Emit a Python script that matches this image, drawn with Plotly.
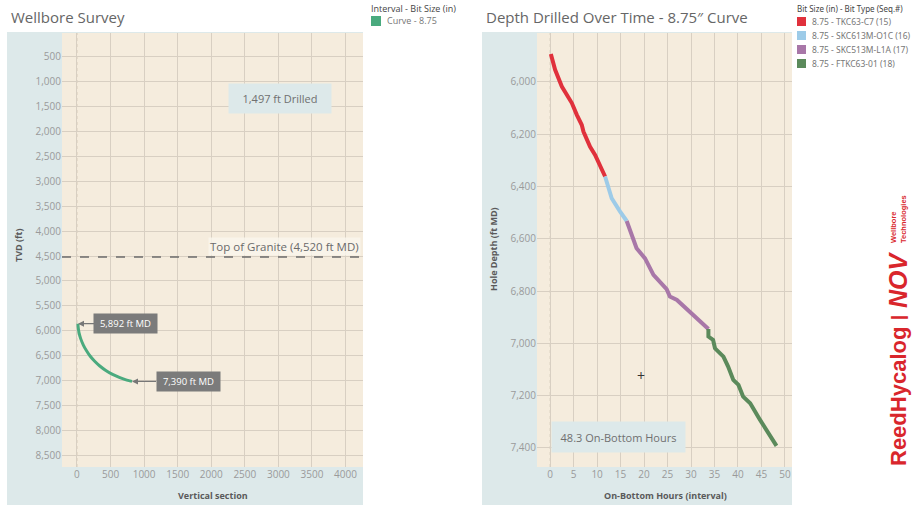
import plotly.graph_objects as go

W, H = 913, 506

# ---------------- data ----------------
# Wellbore survey (vertical section vs TVD)
survey_vs = [15, 18, 30, 55, 95, 140, 195, 260, 340, 430, 530, 630, 720, 790, 820]
survey_tvd = [5860, 5930, 6040, 6160, 6290, 6400, 6510, 6610, 6710, 6800, 6880, 6940, 6985, 7010, 7020]

# Depth drilled over time, by bit run
bit_names = ["8.75 - TKC63-C7 (15)", "8.75 - SKC613M-O1C (16)",
             "8.75 - SKC513M-L1A (17)", "8.75 - FTKC63-01 (18)"]
bit_colors = ["#e0313c", "#9dcbe8", "#a877a8", "#5b8a5b"]

hours_15 = [0.15, 1.06, 2.49, 3.89, 4.62, 5.68, 6.74, 7.09, 8.51, 9.57, 10.64, 11.70]
depth_15 = [5893, 5954, 6018, 6062, 6081, 6126, 6165, 6190, 6248, 6279, 6324, 6362]
hours_16 = [11.70, 13.1, 14.9, 16.3]
depth_16 = [6362, 6445, 6496, 6532]
hours_17 = [16.3, 17.4, 18.4, 20.2, 22.0, 24.8, 25.5, 27.0, 29.8, 31.6, 33.7]
depth_17 = [6532, 6592, 6636, 6675, 6738, 6793, 6821, 6834, 6879, 6910, 6945]
hours_18 = [33.7, 33.7, 34.7, 35.1, 36.9, 37.9, 39.0, 40.1, 41.1, 42.6, 44.7, 46.4, 48.2]
depth_18 = [6945, 6974, 6987, 7019, 7051, 7089, 7140, 7159, 7204, 7229, 7293, 7344, 7392]

bit_hours = [hours_15, hours_16, hours_17, hours_18]
bit_depths = [depth_15, depth_16, depth_17, depth_18]

granite_tvd = 4520
start_md, end_md = 5892, 7390
drilled_ft = 1497
on_bottom_hours = 48.3

left_yticks = list(range(500, 9000, 500))
left_xticks = list(range(0, 4500, 500))
right_yticks = list(range(6000, 7600, 200))
right_xticks = list(range(0, 55, 5))

# ---------------- helpers ----------------
def px(x):
    return x / W

def py(y):
    return 1 - y / H

FONT = "Open Sans"
BEIGE = "#f5ecdd"
PANEL = "#dde9ea"
GRID = "#d8cfc2"
TICK = "#9a9a9a"

fig = go.Figure()

# ---------------- traces ----------------
fig.add_trace(go.Scatter(x=survey_vs, y=survey_tvd, mode="lines",
                         line=dict(color="#4aaa7e", width=3, shape="spline"),
                         xaxis="x", yaxis="y", showlegend=False, hoverinfo="skip"))
# Top of granite dashed line
fig.add_trace(go.Scatter(x=[-223, 4260], y=[granite_tvd, granite_tvd], mode="lines",
                         line=dict(color="#6b6b6b", width=1.5, dash="dash"),
                         xaxis="x", yaxis="y", showlegend=False, hoverinfo="skip"))

for hrs, dep, col in zip(bit_hours, bit_depths, bit_colors):
    fig.add_trace(go.Scatter(x=hrs, y=dep, mode="lines",
                             line=dict(color=col, width=4),
                             xaxis="x2", yaxis="y2", showlegend=False, hoverinfo="skip"))

# ---------------- axes ----------------
ydom = [py(467), py(33)]
common = dict(showline=False, ticks="", zeroline=False, gridcolor=GRID, gridwidth=1,
              tickfont=dict(family=FONT, size=10, color=TICK))
fig.update_layout(
    xaxis=dict(domain=[px(62), px(363)], range=[-223, 4260], tickvals=left_xticks,
               tickformat="d", anchor="y", **common),
    yaxis=dict(domain=ydom, range=[8740, 18], tickvals=left_yticks,
               tickformat=",d", anchor="x", **common),
    xaxis2=dict(domain=[px(537), px(792)], range=[-2.8, 51.5], tickvals=right_xticks,
                tickformat="d", anchor="y2", **common),
    yaxis2=dict(domain=ydom, range=[7473, 5813], tickvals=right_yticks,
                tickformat=",d", anchor="x2", **common),
)

shapes = []
# panel backgrounds
shapes.append(dict(type="rect", xref="paper", yref="paper", x0=px(7), x1=px(363),
                   y0=py(505), y1=py(32), fillcolor=PANEL, line=dict(width=0), layer="below"))
shapes.append(dict(type="rect", xref="paper", yref="paper", x0=px(482), x1=px(792),
                   y0=py(505), y1=py(32), fillcolor=PANEL, line=dict(width=0), layer="below"))
# plot areas
shapes.append(dict(type="rect", xref="x domain", yref="y domain", x0=0, x1=1, y0=0, y1=1,
                   fillcolor=BEIGE, line=dict(width=0), layer="below"))
shapes.append(dict(type="rect", xref="x2 domain", yref="y2 domain", x0=0, x1=1, y0=0, y1=1,
                   fillcolor=BEIGE, line=dict(width=0), layer="below"))
# dotted zero lines
shapes.append(dict(type="line", xref="x", yref="y domain", x0=0, x1=0, y0=0, y1=1,
                   line=dict(color="#d6cab8", width=1, dash="dot"), layer="below"))
shapes.append(dict(type="line", xref="x2", yref="y2 domain", x0=0, x1=0, y0=0, y1=1,
                   line=dict(color="#d6cab8", width=1, dash="dot"), layer="below"))

# legend squares
shapes.append(dict(type="rect", xref="paper", yref="paper", x0=px(371), x1=px(381),
                   y0=py(26), y1=py(16), fillcolor="#4aaa7e", line=dict(width=0)))
for i, col in enumerate(bit_colors):
    yc = 21.5 + 14 * i
    shapes.append(dict(type="rect", xref="paper", yref="paper", x0=px(797), x1=px(806),
                       y0=py(yc + 4.5), y1=py(yc - 4.5), fillcolor=col, line=dict(width=0)))

fig.update_layout(shapes=shapes)

ann = []
TXT = "#5a5a5a"


def note(text, x, y, size, color, xanchor="center", yanchor="middle", angle=0,
         family=FONT, **kw):
    d = dict(text=text, x=x, y=y, xref="paper", yref="paper", xanchor=xanchor,
             yanchor=yanchor, textangle=angle, showarrow=False,
             font=dict(family=family, size=size, color=color))
    d.update(kw)
    ann.append(d)


# titles
note("Wellbore Survey", px(9), py(17), 15, "#666666", xanchor="left")
note("Depth Drilled Over Time - 8.75\u2033 Curve", px(484), py(17), 15, "#666666", xanchor="left")
# axis titles
note("<b>TVD (ft)</b>", px(18), py(245), 9, TXT, angle=-90)
note("<b>Vertical section</b>", px(213), py(495), 9, TXT)
note("<b>Hole Depth (ft MD)</b>", px(493), py(249), 9, TXT, angle=-90)
note("<b>On-Bottom Hours (interval)</b>", px(665), py(495), 9, TXT)
# legends
note("Interval - Bit Size (in)", px(369), py(8), 9, "#444444", xanchor="left")
note("Curve - 8.75", px(385), py(21), 9, "#777777", xanchor="left")
note("Bit Size (in) - Bit Type (Seq.#)", px(795), py(8), 8, "#444444", xanchor="left",
     family="Noto Sans")
for i, name in enumerate(bit_names):
    note(name, px(810), py(21.5 + 14 * i), 8.5, "#777777", xanchor="left", family="Noto Sans")

# data callouts
ann.append(dict(text=f"{start_md:,} ft MD", x=survey_vs[0], y=survey_tvd[0], xref="x", yref="y",
                ax=48, ay=0, showarrow=True, arrowhead=2, arrowsize=1, arrowwidth=1.2,
                arrowcolor="#777777", bgcolor="#7b7b7b", borderpad=3, width=57,
                font=dict(family=FONT, size=9.5, color="white")))
ann.append(dict(text=f"{end_md:,} ft MD", x=survey_vs[-1], y=survey_tvd[-1], xref="x", yref="y",
                ax=56, ay=0, showarrow=True, arrowhead=2, arrowsize=1, arrowwidth=1.2,
                arrowcolor="#777777", bgcolor="#7b7b7b", borderpad=3, width=57,
                font=dict(family=FONT, size=9.5, color="white")))
note(f"{drilled_ft:,} ft Drilled", px(280), py(98.5), 11, "#707070",
     bgcolor=PANEL, width=96, height=23, borderpad=3)
ann.append(dict(text=f"Top of Granite ({granite_tvd:,} ft MD)", x=px(361), y=granite_tvd,
                xref="paper", yref="y", xanchor="right", yanchor="bottom", yshift=1,
                showarrow=False, bgcolor="rgba(250,246,238,0.8)",
                font=dict(family=FONT, size=11.5, color="#6a6a6a")))
note(f"{on_bottom_hours} On-Bottom Hours", px(618.5), py(437), 11, "#707070",
     bgcolor=PANEL, width=127, height=24, borderpad=3)
# cursor mark
note("+", px(641), py(375), 14, "#333333")
# logo
RED = "#d9262c"
note("<b>ReedHycalog</b>", px(898), py(397), 22, RED, angle=-90, family="Liberation Sans")
note("<b>|</b>", px(898), py(318), 18, RED, angle=-90, family="Liberation Sans")
note("<b><i>NOV</i></b>", px(898), py(280), 25, RED, angle=-90, family="Liberation Sans")
note("<b>Wellbore<br>Technologies</b>", px(899), py(219), 7.5, RED, angle=-90,
     family="Liberation Sans", align="left")

fig.update_layout(annotations=ann, width=W, height=H,
                  margin=dict(l=0, r=0, t=0, b=0),
                  paper_bgcolor="white", plot_bgcolor=BEIGE,
                  showlegend=False, font=dict(family=FONT))

fig.write_html("out.html", config={"displayModeBar": False},
               post_script="document.body.style.margin='0';")
